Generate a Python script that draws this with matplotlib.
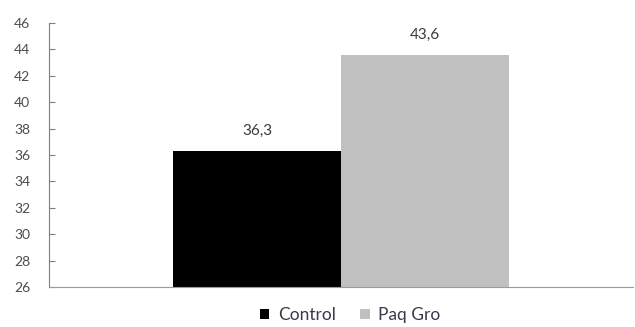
import matplotlib
matplotlib.use("Agg")
import matplotlib.pyplot as plt
from matplotlib.patches import Patch

# group means
groups = ["Control", "Paq Gro"]
values = [36.3, 43.6]
colors = ["#000000", "#c0c0c0"]
yticks = list(range(26, 47, 2))

plt.rcParams["font.family"] = ["Lato", "DejaVu Sans"]

fig = plt.figure(figsize=(6.35, 3.27), dpi=100)
ax = fig.add_axes([49 / 635, 1 - 287 / 327, 584 / 635, 264 / 327])

bars = ax.bar(range(len(values)), values, width=1.0, color=colors, bottom=0)
ax.set_ylim(26, 46)
ax.set_xlim(-1.238, 2.238)
ax.set_yticks(yticks)
ax.set_xticks([])

for rect, v in zip(bars, values):
    ax.text(rect.get_x() + rect.get_width() / 2, v + 1.0, f"{v:.1f}".replace(".", ","),
            ha="center", va="bottom", fontsize=11, color="#3a3a3a")

for side in ["top", "right"]:
    ax.spines[side].set_visible(False)
ax.spines["left"].set_color("#7f7f7f")
ax.spines["bottom"].set_color("#9a9a9a")
ax.tick_params(axis="y", direction="in", length=4, color="#7f7f7f",
               labelsize=10, labelcolor="#4d4d4d", pad=13.5)

handles = [Patch(facecolor=c, edgecolor="none") for c in colors]
fig.legend(handles, groups, loc="center", bbox_to_anchor=(350 / 635, 1 - 315 / 327),
           ncol=2, frameon=False, fontsize=12.5, handlelength=0.55, handleheight=0.55,
           handletextpad=0.5, columnspacing=1.4, labelcolor="#3a3a48")

fig.savefig("out.png", dpi=100)
